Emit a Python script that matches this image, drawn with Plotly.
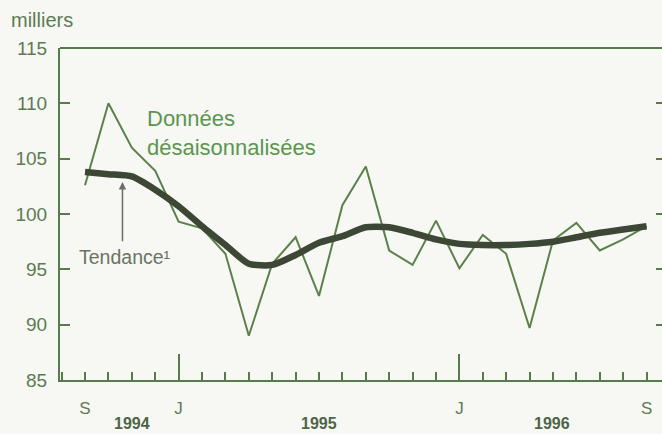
import plotly.graph_objects as go

months = ["1994-09", "1994-10", "1994-11", "1994-12",
          "1995-01", "1995-02", "1995-03", "1995-04", "1995-05", "1995-06",
          "1995-07", "1995-08", "1995-09", "1995-10", "1995-11", "1995-12",
          "1996-01", "1996-02", "1996-03", "1996-04", "1996-05", "1996-06",
          "1996-07", "1996-08", "1996-09"]
desaison = [102.6, 110.0, 106.0, 103.9, 99.3, 98.7, 96.4, 89.0, 95.5, 97.9,
            92.6, 100.8, 104.3, 96.7, 95.4, 99.4, 95.1, 98.1, 96.4, 89.7,
            97.6, 99.2, 96.7, 97.7, 98.9]
tendance = [103.8, 103.6, 103.4, 102.2, 100.7, 98.9, 97.2, 95.5, 95.4, 96.3,
            97.4, 98.0, 98.8, 98.8, 98.3, 97.7, 97.3, 97.2, 97.2, 97.3,
            97.5, 97.9, 98.3, 98.6, 98.9]
tick_idx = [0, 4, 16, 24]
tick_text = ["S", "J", "J", "S"]
jan_idx = [4, 16]
year_labels = ["1994", "1995", "1996"]
year_pos = [2.0, 10.0, 19.95]
y_ticks = [85, 90, 95, 100, 105, 110, 115]

x = list(range(len(months)))

AX = "#577b4a"
TXT = "#5d7b53"
BG = "#f7f7f3"
FONT = "Liberation Sans, Arial, sans-serif"

fig = go.Figure()
fig.add_trace(go.Scatter(x=x, y=desaison, mode="lines",
                         line=dict(color="#5c804c", width=2),
                         showlegend=False, hoverinfo="skip"))
fig.add_trace(go.Scatter(x=x, y=tendance, mode="lines",
                         line=dict(color="#3c4735", width=6.5, shape="spline", smoothing=0.6),
                         showlegend=False, hoverinfo="skip"))
# invisible trace to activate the overlay axes
fig.add_trace(go.Scatter(x=[x[0]], y=[tendance[0]], xaxis="x2", yaxis="y2",
                         mode="markers", marker=dict(opacity=0),
                         showlegend=False, hoverinfo="skip"))

xr = [-1.07, 24.66]
yr = [85, 115]

fig.update_layout(
    width=662, height=434,
    margin=dict(l=60, r=0, t=48, b=54),
    paper_bgcolor=BG, plot_bgcolor=BG,
    font=dict(family=FONT, color=TXT),
    xaxis=dict(range=xr, showgrid=False, zeroline=False,
               showline=True, linecolor=AX, linewidth=2,
               tickmode="array", tickvals=tick_idx, ticktext=tick_text,
               ticks="inside", ticklen=8, tickwidth=2, tickcolor=AX,
               tickfont=dict(size=17, color=TXT), ticklabelstandoff=12,
               minor=dict(dtick=1, tick0=0, ticks="inside", ticklen=8,
                          tickwidth=2, tickcolor=AX, showgrid=False)),
    xaxis2=dict(range=xr, overlaying="x", anchor="y", side="bottom",
                showgrid=False, zeroline=False, showline=False,
                tickmode="array", tickvals=jan_idx, showticklabels=False,
                ticks="inside", ticklen=26, tickwidth=2, tickcolor=AX),
    yaxis=dict(range=yr, showgrid=False, zeroline=False,
               showline=True, linecolor=AX, linewidth=2,
               tickmode="array", tickvals=y_ticks,
               ticks="inside", ticklen=10, tickwidth=2, tickcolor=AX,
               tickfont=dict(size=19, color=TXT), ticklabelstandoff=7),
    yaxis2=dict(range=yr, overlaying="y", anchor="x", side="right",
                showgrid=False, zeroline=False, showline=False,
                tickmode="array", tickvals=y_ticks, showticklabels=False,
                ticks="inside", ticklen=6, tickwidth=2, tickcolor=AX),
    shapes=[dict(type="line", xref="paper", yref="paper", x0=0, x1=1, y0=1, y1=1,
                 line=dict(color=AX, width=2))],
)

annots = [
    dict(text="milliers", xref="paper", yref="paper", x=-0.085, y=1.084,
         xanchor="left", yanchor="middle", showarrow=False,
         font=dict(size=20, color=TXT)),
    dict(text="Données<br>désaisonnalisées", xref="x", yref="y", x=2.55, y=107.3,
         xanchor="left", yanchor="middle", align="left", showarrow=False,
         font=dict(size=22, color="#5b9651")),
    dict(text="Tendance¹", xref="x", yref="y", x=1.7, y=96.1,
         xanchor="center", yanchor="middle", showarrow=False,
         font=dict(size=19.5, color="#687562")),
    dict(text="", xref="x", yref="y", x=1.6, y=102.9, ax=1.6, ay=97.4,
         axref="x", ayref="y", showarrow=True, arrowhead=2, arrowsize=1,
         arrowwidth=1.5, arrowcolor="#6b6e66"),
]
for lab, pos in zip(year_labels, year_pos):
    annots.append(dict(text=lab, xref="x", yref="paper", x=pos, y=-0.1,
                       xanchor="center", yanchor="top", showarrow=False,
                       font=dict(size=16, color="#4d6546", weight="bold")))
fig.update_layout(annotations=annots)

fig.write_html(
    "out.html",
    config={"displayModeBar": False},
    post_script="document.body.style.margin='0';document.body.style.background='" + BG + "';",
)
